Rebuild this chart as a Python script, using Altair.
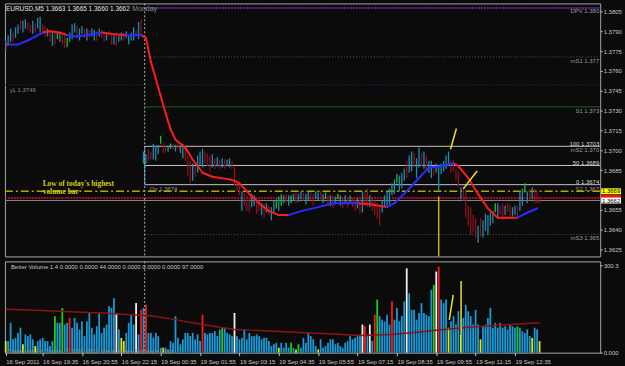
import altair as alt
import pandas as pd

# ---------------- data ----------------
title_text = "EURUSD,M5 1.3663 1.3665 1.3660 1.3662"

bar_high = [
    1.3783, 1.3787, 1.3792, 1.3789, 1.3793, 1.3795, 1.3798, 1.3798, 1.3799, 1.3797,
    1.3795, 1.3798, 1.3796, 1.3800, 1.3801, 1.3795, 1.3794, 1.3792, 1.3789, 1.3790,
    1.3789, 1.3789, 1.3789, 1.3788, 1.3787, 1.3785, 1.3789, 1.3795, 1.3796, 1.3794,
    1.3792, 1.3794, 1.3792, 1.3792, 1.3791, 1.3792, 1.3791, 1.3790, 1.3792, 1.3791,
    1.3790, 1.3789, 1.3790, 1.3789, 1.3787, 1.3789, 1.3787, 1.3789, 1.3789, 1.3790,
    1.3787, 1.3789, 1.3793, 1.3791, 1.3797, 1.3799,
    1.3699, 1.3697, 1.3701, 1.3699, 1.3705, 1.3703, 1.3704, 1.3711, 1.3705, 1.3704,
    1.3703, 1.3705, 1.3705, 1.3704, 1.3705, 1.3703, 1.3705, 1.3702, 1.3696, 1.3692,
    1.3690, 1.3688, 1.3696, 1.3699, 1.3701, 1.3699, 1.3698, 1.3696, 1.3697, 1.3694,
    1.3695, 1.3693, 1.3694, 1.3693, 1.3693, 1.3694, 1.3692, 1.3688, 1.3677, 1.3675,
    1.3669, 1.3668, 1.3666, 1.3664, 1.3667, 1.3666, 1.3664, 1.3662, 1.3660, 1.3660,
    1.3660, 1.3658, 1.3657, 1.3662, 1.3663, 1.3665, 1.3667, 1.3666, 1.3667, 1.3666,
    1.3666, 1.3667, 1.3668, 1.3667, 1.3669, 1.3668, 1.3667, 1.3669, 1.3668, 1.3667,
    1.3669, 1.3668, 1.3669, 1.3667, 1.3668, 1.3666, 1.3666, 1.3666, 1.3665, 1.3667,
    1.3666, 1.3664, 1.3666, 1.3665, 1.3666, 1.3664, 1.3663, 1.3664, 1.3663, 1.3669,
    1.3668, 1.3671, 1.3666, 1.3664, 1.3662, 1.3660, 1.3658, 1.3662, 1.3666, 1.3669,
    1.3671, 1.3675, 1.3678, 1.3682, 1.3681, 1.3683, 1.3686, 1.3692, 1.3696, 1.3699,
    1.3698, 1.3694, 1.3702, 1.3698, 1.3699, 1.3696, 1.3692, 1.3692, 1.3688, 1.3690,
    1.3687, 1.3690, 1.3692, 1.3696, 1.3699, 1.3692, 1.3693, 1.3686, 1.3684, 1.3672,
    1.3673, 1.3669, 1.3658, 1.3657, 1.3651, 1.3648, 1.3643, 1.3649, 1.3647, 1.3652,
    1.3651, 1.3653, 1.3654, 1.3660, 1.3660, 1.3658, 1.3660, 1.3658, 1.3660, 1.3659,
    1.3657, 1.3658, 1.3658, 1.3669, 1.3671, 1.3675, 1.3669, 1.3671, 1.3672, 1.3671,
    1.3669, 1.3665,
]

bar_low = [
    1.3775, 1.3779, 1.3782, 1.3782, 1.3785, 1.3788, 1.3791, 1.3789, 1.3792, 1.3791,
    1.3789, 1.3788, 1.3789, 1.3792, 1.3789, 1.3789, 1.3786, 1.3786, 1.3782, 1.3779,
    1.3780, 1.3784, 1.3782, 1.3780, 1.3777, 1.3778, 1.3782, 1.3784, 1.3789, 1.3786,
    1.3783, 1.3788, 1.3785, 1.3783, 1.3785, 1.3786, 1.3783, 1.3783, 1.3786, 1.3785,
    1.3782, 1.3783, 1.3786, 1.3780, 1.3780, 1.3779, 1.3782, 1.3783, 1.3783, 1.3785,
    1.3780, 1.3783, 1.3783, 1.3787, 1.3784, 1.3787,
    1.3690, 1.3690, 1.3692, 1.3693, 1.3693, 1.3692, 1.3697, 1.3705, 1.3698, 1.3699,
    1.3699, 1.3701, 1.3700, 1.3699, 1.3701, 1.3698, 1.3694, 1.3692, 1.3681, 1.3675,
    1.3677, 1.3680, 1.3683, 1.3688, 1.3687, 1.3690, 1.3688, 1.3684, 1.3687, 1.3686,
    1.3688, 1.3686, 1.3687, 1.3686, 1.3688, 1.3687, 1.3686, 1.3673, 1.3669, 1.3666,
    1.3654, 1.3658, 1.3654, 1.3653, 1.3657, 1.3658, 1.3652, 1.3654, 1.3651, 1.3649,
    1.3653, 1.3651, 1.3647, 1.3653, 1.3656, 1.3654, 1.3658, 1.3660, 1.3660, 1.3658,
    1.3660, 1.3662, 1.3660, 1.3661, 1.3663, 1.3662, 1.3659, 1.3662, 1.3662, 1.3658,
    1.3663, 1.3662, 1.3662, 1.3660, 1.3663, 1.3658, 1.3658, 1.3656, 1.3659, 1.3663,
    1.3658, 1.3656, 1.3660, 1.3657, 1.3660, 1.3657, 1.3654, 1.3656, 1.3652, 1.3653,
    1.3658, 1.3657, 1.3657, 1.3654, 1.3651, 1.3648, 1.3643, 1.3653, 1.3657, 1.3658,
    1.3659, 1.3666, 1.3667, 1.3675, 1.3669, 1.3671, 1.3677, 1.3679, 1.3683, 1.3684,
    1.3687, 1.3679, 1.3687, 1.3688, 1.3686, 1.3684, 1.3683, 1.3679, 1.3681, 1.3683,
    1.3669, 1.3682, 1.3684, 1.3686, 1.3688, 1.3683, 1.3684, 1.3677, 1.3672, 1.3663,
    1.3662, 1.3649, 1.3643, 1.3636, 1.3638, 1.3634, 1.3630, 1.3635, 1.3634, 1.3639,
    1.3636, 1.3643, 1.3645, 1.3653, 1.3648, 1.3651, 1.3647, 1.3651, 1.3653, 1.3648,
    1.3650, 1.3651, 1.3649, 1.3654, 1.3658, 1.3668, 1.3660, 1.3662, 1.3663, 1.3660,
    1.3660, 1.3660,
]

# u = up bar, d = down bar, g = green bar
bar_dir = (
    "uuuduuduud" "duduuddudu" "dguddguuud" "uududuudud" "dudduduudu" "uuudud"
    "uudduuugdd" "ugduduuddd" "uduuudddud" "ududuudddd" "uddduuddud" "uduugugudu"
    "guduuduudd" "uudugdudug" "udududdudu" "ddudddduuu" "uuuguuuduu" "duududuudu"
    "uuuuuddddu" "dddddduduu" "uuuguddudd" "uuduugudud" "dd"
)

vol = [
    40, 40, 103, 46, 51, 68, 86, 29, 63, 57,
    63, 46, 23, 40, 46, 51, 40, 40, 23, 40,
    126, 103, 103, 154, 97, 103, 120, 86, 120, 103,
    80, 108, 57, 108, 137, 86, 63, 91, 137, 68,
    86, 97, 160, 154, 188, 137, 80, 51, 40, 68,
    103, 131, 97, 171, 63, 148, 154, 165,
    68, 68, 51, 68, 57, 17, 17, 17, 11, 40,
    34, 126, 51, 29, 46, 68, 68, 57, 68, 46,
    63, 40, 131, 68, 63, 68, 68, 74, 57, 80,
    86, 86, 68, 63, 57, 137, 57, 46, 51, 80,
    46, 68, 57, 57, 63, 57, 46, 51, 51, 40,
    23, 29, 34, 17, 34, 17, 34, 17, 34, 17,
    11, 29, 17, 51, 34, 68, 57, 46, 23, 11,
    46, 17, 23, 34, 46, 46, 29, 34, 23, 17,
    34, 40, 57, 46, 51, 57, 63, 97, 91, 57,
    97, 40, 131, 183, 126, 114, 108, 131, 97, 177,
    114, 154, 108, 126, 177, 291, 205, 148, 148, 114,
    137, 171, 137, 131, 126, 217, 234, 280, 297, 183,
    171, 183, 86, 108, 126, 97, 143, 63, 120, 165,
    143, 126, 97, 148, 97, 46, 91, 97, 120, 154,
    86, 103, 86, 103, 86, 91, 80, 97, 91, 86,
    91, 86, 74, 68, 80, 57, 51, 86, 80, 40,
]

# b blue, y yellow, r red, w white, g green
vol_col = (
    "ybbbbbbybb" "bbybbbbbbb" "gbbgbbrbbb" "bbbbbbbbbb" "bbbbbwbyyb" "bbbwbrbr"
    "bbbbbbybbb" "bbbbbbbbbb" "bbrbbbbbbb" "gbbbbwbbbb" "bbbbbbbbbb" "bbbybbbbgb"
    "ygbbbbbbby" "bbbbbbbbbb" "bbbbbbbwrb" "wbrgbbbbbr" "bbbbbwbbbb" "bbbbbbgwrb"
    "bbybbbbybb" "bbbbbybbbb" "bbbbbbbbbb" "gbbbbbybby"
)

vol_avg_i = [0, 12, 26, 39, 53, 59, 69, 80, 93, 107, 124, 137, 144, 157, 168, 178, 191, 205, 217]
vol_avg_v = [150, 146, 141, 137, 130, 127, 114, 97, 80, 75, 68, 63, 59, 63, 71, 80, 89, 97, 103]

ma_i = [0, 1, 5, 9, 12, 15, 18, 22, 25, 29, 33, 39, 43, 49, 53, 55, 57, 59, 61, 63,
        65, 67, 69, 73, 76, 80, 84, 91, 93, 95, 99, 103, 107, 111, 115, 120, 127, 133, 139, 143,
        149, 155, 158, 163, 168, 172, 177, 182, 184, 188, 192, 196, 200, 203, 208, 211, 216]
ma_p = [1.3780, 1.3780, 1.3780, 1.3783, 1.3786, 1.3789, 1.3790, 1.3789, 1.3787, 1.3786,
        1.3787, 1.3789, 1.3788, 1.3787, 1.3787, 1.3787, 1.3785, 1.3767, 1.3754, 1.3741,
        1.3728, 1.3716, 1.3708, 1.3702, 1.3693, 1.3683, 1.3680, 1.3678, 1.3677, 1.3675,
        1.3667, 1.3660, 1.3654, 1.3651, 1.3651, 1.3654, 1.3657, 1.3660, 1.3660, 1.3660,
        1.3659, 1.3657, 1.3660, 1.3669, 1.3679, 1.3687, 1.3688, 1.3690, 1.3688, 1.3679,
        1.3667, 1.3656, 1.3649, 1.3649, 1.3649, 1.3652, 1.3656]
ma_col = "rrbbbbrrrbbbrrbb" "rrrrrrrrrrrrrrrrrrr" "bbbbbrrbbbbbbrrrrrrrbb"

time_idx = [0, 15, 31, 47, 63, 79, 95, 111, 127, 143, 159, 175, 191, 207]
time_lab = ["16 Sep 2011", "16 Sep 19:35", "16 Sep 20:55", "16 Sep 22:15", "19 Sep 00:35",
            "19 Sep 01:55", "19 Sep 03:15", "19 Sep 04:35", "19 Sep 05:55", "19 Sep 07:15",
            "19 Sep 08:35", "19 Sep 09:55", "19 Sep 11:15", "19 Sep 12:35"]
price_ticks = [1.3805, 1.3790, 1.3775, 1.3760, 1.3745, 1.3730, 1.3715, 1.3700,
               1.3685, 1.3655, 1.3640, 1.3625]

sep_index = 56.5          # Monday separator
hv_index = 176            # highest volume bar of the day
hv_low = 1.3669
hv_top = 1.3665
dpv_level = 1.38076
ms1_level = 1.37705
yl_level = 1.37495
s1_level = 1.37328
fib_levels = [1.3703, 1.36885, 1.3674]
red_level = 1.3664
bid_level = 1.3662
ms3_level = 1.36363

right_lab_text = ["DPV 1.380", "mS1 1.377", "S1 1.373", "100 1.3703", "mS2 1.370",
                  "50 1.3689", "0 1.3674", "S2 1.367", "mS3 1.365"]
right_lab_price = [1.3805, 1.37675, 1.3730, 1.37049, 1.3700, 1.36903, 1.3676, 1.36708, 1.36333]
right_lab_bright = [0, 0, 0, 1, 0, 1, 1, 0, 0]

slant_price_a = ([180.8, 183.2], [1.37008, 1.37165])
slant_price_b = ([186.0, 191.6], [1.36708, 1.36843])
slant_vol = ([180.3, 181.9], [113, 199])
vol_mark = (185.1, 63, 247)

hv_note = ["Low of today's highest", "volume bar"]
hv_note_price = [1.36745, 1.36681]

# ---------------- scales / helpers ----------------
X_DOM = [-0.3, 241.64]
P_DOM = [1.361975, 1.3811]
V_DOM = [0, 315]
W, HP, HV = 600, 255, 92
FONT = "Liberation Sans"
LBL = "#c8c8c8"
BG = "#0a0b0a"

xs = alt.Scale(domain=X_DOM, nice=False, zero=False)
ps = alt.Scale(domain=P_DOM, nice=False, zero=False)
vs = alt.Scale(domain=V_DOM, nice=False, zero=False)

price_axis = alt.Axis(values=price_ticks, format=".4f", orient="right", title=None,
                      labelFont=FONT, labelFontSize=6, labelColor=LBL, tickColor=LBL,
                      tickSize=2, labelPadding=1, domain=False, grid=False)
vol_axis = alt.Axis(values=[0, 300.3], orient="right", title=None,
                    labelExpr="datum.value > 1 ? '300.3' : '0.000'",
                    labelFont=FONT, labelFontSize=6, labelColor=LBL, tickColor=LBL,
                    tickSize=2, labelPadding=1, domain=False, grid=False)
t_expr = "".join(f"datum.value == {i} ? '{t}' : " for i, t in zip(time_idx, time_lab)) + "''"
time_axis = alt.Axis(values=time_idx, labelExpr=t_expr, orient="bottom", title=None,
                     labelFont=FONT, labelFontSize=6, labelColor=LBL, tickColor=LBL,
                     tickSize=3, labelPadding=3, labelAlign="left", labelBaseline="top",
                     labelFlush=False, labelOverlap=False, domain=False, grid=False)


def xP(f):
    return alt.X(f, type="quantitative", scale=xs, axis=None)


def yP(f):
    return alt.Y(f, type="quantitative", scale=ps, axis=price_axis)


def xV(f):
    return alt.X(f, type="quantitative", scale=xs, axis=time_axis)


def yV(f):
    return alt.Y(f, type="quantitative", scale=vs, axis=vol_axis)


def one(**kw):
    return pd.DataFrame({k: [v] for k, v in kw.items()})


def hline(p, start, color, dash=None, width=1.0):
    kw = dict(color=color, strokeWidth=width)
    if dash:
        kw["strokeDash"] = dash
    return alt.Chart(one(p=p, a=start, b=X_DOM[1])).mark_rule(**kw).encode(
        x=xP("a"), x2=alt.X2("b"), y=yP("p"))


n = min(len(bar_high), len(bar_low), len(bar_dir), len(vol), len(vol_col))
bars = pd.DataFrame({"i": list(range(n)), "hi": bar_high[:n], "lo": bar_low[:n],
                     "dir": list(bar_dir[:n]), "vol": vol[:n], "vc": list(vol_col[:n])})
seg = pd.DataFrame({"x0": ma_i[:-1], "x1": ma_i[1:], "y0": ma_p[:-1], "y1": ma_p[1:],
                    "c": list(ma_col[1:len(ma_i)])})

# ---------------- price panel ----------------
layers = [
    hline(dpv_level, sep_index, "#7b2fbf", [2, 1], 1.6),
    hline(ms1_level, sep_index, "#5f5f18", [1, 2], 1.0),
    hline(yl_level, X_DOM[0], "#2c2c8c", [1, 2], 1.0),
    hline(s1_level, sep_index, "#1c641c", None, 1.0),
]
for fl in fib_levels:
    layers.append(hline(fl, sep_index, "#c4c4c4", None, 1.0))
layers += [
    hline(ms3_level, sep_index, "#5f5f18", [1, 2], 1.0),
    hline(bid_level, X_DOM[0], "#7c8c8c", None, 1.0),
    hline(red_level, X_DOM[0], "#e0102a", [2, 1], 1.5),
    hline(hv_low, X_DOM[0], "#b4a800", [8, 3, 2, 3], 1.5),
    alt.Chart(one(s=sep_index, a=fib_levels[0], b=fib_levels[2])).mark_rule(
        color="#3aa6c8", strokeWidth=1).encode(x=xP("s"), y=yP("a"), y2=alt.Y2("b")),
    alt.Chart(one(s=sep_index)).mark_rule(color="#b4b4b4", strokeDash=[2, 2], strokeWidth=1).encode(
        x=xP("s")),
]
bar_colors = {"u": "#1c8cb4", "d": "#8c1020", "g": "#22c022"}
for k, c in bar_colors.items():
    layers.append(alt.Chart(bars).transform_filter(alt.datum.dir == k).mark_rule(
        color=c, strokeWidth=1.3).encode(x=xP("i"), y=yP("lo"), y2=alt.Y2("hi")))
for k, c in {"r": "#ff1c1c", "b": "#2c2cff"}.items():
    layers.append(alt.Chart(seg).transform_filter(alt.datum.c == k).mark_rule(
        color=c, strokeWidth=2, strokeCap="round").encode(
        x=xP("x0"), x2=alt.X2("x1"), y=yP("y0"), y2=alt.Y2("y1")))
layers += [
    alt.Chart(one(i=hv_index, a=hv_top, b=P_DOM[0])).mark_rule(color="#c8b400", strokeWidth=1.5).encode(
        x=xP("i"), y=yP("a"), y2=alt.Y2("b")),
    alt.Chart(one(x0=slant_price_a[0][0], x1=slant_price_a[0][1], y0=slant_price_a[1][0], y1=slant_price_a[1][1]))
    .mark_rule(color="#f0e030", strokeWidth=1.5).encode(x=xP("x0"), x2=alt.X2("x1"), y=yP("y0"), y2=alt.Y2("y1")),
    alt.Chart(one(x0=slant_price_b[0][0], x1=slant_price_b[0][1], y0=slant_price_b[1][0], y1=slant_price_b[1][1]))
    .mark_rule(color="#f0e030", strokeWidth=1.5).encode(x=xP("x0"), x2=alt.X2("x1"), y=yP("y0"), y2=alt.Y2("y1")),
    # texts
    alt.Chart(one(t=title_text)).mark_text(align="left", baseline="middle", font=FONT, fontSize=6.5,
                                           color="#e6e6e6").encode(x=alt.value(1), y=alt.value(6), text="t:N"),
    alt.Chart(one(s=sep_index, t="Monday")).mark_text(align="center", baseline="middle", font=FONT,
                                                      fontSize=7, color="#8c8c8c").encode(
        x=xP("s"), y=alt.value(6), text="t:N"),
    alt.Chart(one(p=yl_level, t="yL 1.3749")).mark_text(align="left", baseline="middle", font=FONT,
                                                        fontSize=6, color="#8c8c8c", dy=5).encode(
        x=alt.value(5), y=yP("p"), text="t:N"),
    alt.Chart(one(s=sep_index, p=fib_levels[2], t="Op 1.3674")).mark_text(
        align="left", baseline="middle", font=FONT, fontSize=6, color="#9a9a9a", dx=5, dy=4.5).encode(
        x=xP("s"), y=yP("p"), text="t:N"),
    alt.Chart(pd.DataFrame({"t": hv_note, "p": hv_note_price})).mark_text(
        align="left", baseline="middle", font="Liberation Serif", fontWeight="bold", fontSize=7.5,
        color="#d8cc10").encode(x=alt.value(38), y=yP("p"), text="t:N"),
]
rl = pd.DataFrame({"t": right_lab_text, "p": right_lab_price, "b": right_lab_bright})
layers += [
    alt.Chart(rl).transform_filter(alt.datum.b == 0).mark_text(
        align="right", baseline="middle", font=FONT, fontSize=6, color="#9a9a9a").encode(
        x=alt.value(599), y=yP("p"), text="t:N"),
    alt.Chart(rl).transform_filter(alt.datum.b == 1).mark_text(
        align="right", baseline="middle", font=FONT, fontSize=6, color="#d8d8d8").encode(
        x=alt.value(599), y=yP("p"), text="t:N"),
]
for p, c in [(red_level, "#ff1010"), (hv_low, "#ffff00"), (bid_level, "#ffffff")]:
    layers.append(alt.Chart(one(p=p)).mark_rule(color=c, strokeWidth=6, strokeCap="butt").encode(
        x=alt.value(601), x2=alt.value(621), y=yP("p")))
for p, t in [(hv_low, "1.3669"), (bid_level, "1.3662")]:
    layers.append(alt.Chart(one(p=p, t=t)).mark_text(align="center", baseline="middle", font=FONT,
                                                     fontSize=6, color="#000000").encode(
        x=alt.value(611), y=yP("p"), text="t:N"))

price = alt.layer(*layers).properties(width=W, height=HP)

# ---------------- volume panel ----------------
vlayers = [
    alt.Chart(one(s=sep_index)).mark_rule(color="#b4b4b4", strokeDash=[2, 2], strokeWidth=1).encode(
        x=xV("s")),
]
vcols = {"b": "#1a9ad8", "y": "#e8e800", "r": "#ff1a1a", "w": "#f0f0f0", "g": "#18d018"}
for k, c in vcols.items():
    vlayers.append(alt.Chart(bars).transform_filter(alt.datum.vc == k).mark_rule(
        color=c, strokeWidth=1.8).encode(x=xV("i"), y=yV("vol"), y2=alt.datum(0)))
vlayers += [
    alt.Chart(pd.DataFrame({"i": vol_avg_i, "v": vol_avg_v})).mark_line(
        color="#8c1414", strokeWidth=1.5).encode(x=xV("i"), y=yV("v")),
    alt.Chart(one(x0=slant_vol[0][0], x1=slant_vol[0][1], y0=slant_vol[1][0], y1=slant_vol[1][1]))
    .mark_rule(color="#f0e030", strokeWidth=1.5).encode(x=xV("x0"), x2=alt.X2("x1"), y=yV("y0"), y2=alt.Y2("y1")),
    alt.Chart(one(i=vol_mark[0], a=vol_mark[1], b=vol_mark[2])).mark_rule(
        color="#f0e030", strokeWidth=1.5).encode(x=xV("i"), y=yV("a"), y2=alt.Y2("b")),
    alt.Chart(one(t="Better Volume 1.4 0.0000 0.0000 44.0000 0.0000 0.0000 0.0000 97.0000")).mark_text(
        align="left", baseline="middle", font=FONT, fontSize=6, color=LBL).encode(
        x=alt.value(6), y=alt.value(6), text="t:N"),
    alt.Chart(one(t="Tradeview FX Trader, \u00a9 2001-2011 MetaQuotes Software Corp.")).mark_text(
        align="left", baseline="middle", font=FONT, fontSize=6, color="#8a8a8a").encode(
        x=alt.value(2), y=alt.value(90), text="t:N"),
]
volume = alt.layer(*vlayers).properties(width=W, height=HV)

chart = alt.vconcat(price, volume, spacing=2).properties(
    padding={"left": 2, "top": 1, "right": 0, "bottom": 0},
    background=BG,
).configure_view(stroke="#a8a8a8", strokeWidth=1, fill=BG)

chart.save("out.html", embed_options={"renderer": "svg", "actions": False})
